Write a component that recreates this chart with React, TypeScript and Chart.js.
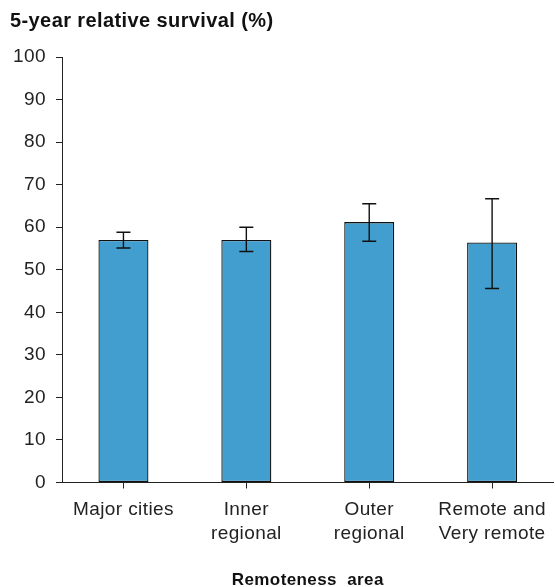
import React, { useEffect, useRef } from "react";
import { Chart, registerables } from "chart.js";

Chart.register(...registerables);

const categories: string[][] = [
  ["Major cities"],
  ["Inner", "regional"],
  ["Outer", "regional"],
  ["Remote and", "Very remote"],
];
const survival: number[] = [57.0, 57.0, 61.2, 56.4];
const lowerCI: number[] = [55.1, 54.3, 56.7, 45.6];
const upperCI: number[] = [58.8, 60.0, 65.5, 66.7];
const yTicks: number[] = [0, 10, 20, 30, 40, 50, 60, 70, 80, 90, 100];

const FONT = "'Liberation Sans', Arial, sans-serif";

const spacingPlugin = {
  id: "spacing",
  beforeUpdate(chart: any) {
    chart.ctx.letterSpacing = "0.4px";
  },
  beforeDraw(chart: any) {
    chart.ctx.letterSpacing = "0.4px";
  },
};

const errorBarPlugin = {
  id: "errorBars",
  afterDatasetsDraw(chart: any) {
    const ctx = chart.ctx;
    const yScale = chart.scales.y;
    const meta = chart.getDatasetMeta(0);
    ctx.save();
    ctx.strokeStyle = "#111111";
    ctx.lineWidth = 1.4;
    meta.data.forEach((bar: any, i: number) => {
      const x = bar.x;
      const yl = yScale.getPixelForValue(lowerCI[i]);
      const yu = yScale.getPixelForValue(upperCI[i]);
      const half = 7;
      ctx.beginPath();
      ctx.moveTo(x, yl);
      ctx.lineTo(x, yu);
      ctx.moveTo(x - half, yu);
      ctx.lineTo(x + half, yu);
      ctx.moveTo(x - half, yl);
      ctx.lineTo(x + half, yl);
      ctx.stroke();
    });
    ctx.restore();
  },
};

export default function App() {
  const ref = useRef<HTMLCanvasElement | null>(null);

  useEffect(() => {
    document.body.style.margin = "0";
    const canvas = ref.current;
    if (!canvas) return;
    const chart = new Chart(canvas, {
      type: "bar",
      data: {
        labels: categories,
        datasets: [
          {
            data: survival,
            backgroundColor: "#429ECE",
            borderColor: "#111111",
            borderWidth: 1.3,
            borderSkipped: false,
            categoryPercentage: 1,
            barPercentage: 0.407,
          },
        ],
      },
      options: {
        animation: false,
        responsive: true,
        maintainAspectRatio: false,
        layout: { padding: { left: 10, right: 1, top: 9, bottom: 0 } },
        plugins: {
          legend: { display: false },
          tooltip: { enabled: false },
          title: {
            display: true,
            text: "5-year relative survival (%)",
            align: "start",
            color: "#111111",
            font: { family: FONT, size: 20, weight: "bold", lineHeight: 1.2 },
            padding: { top: 0, bottom: 24 },
          },
        },
        scales: {
          x: {
            offset: true,
            grid: {
              offset: false,
              drawOnChartArea: false,
              drawTicks: true,
              tickLength: 6,
              color: "#222222",
            },
            border: { color: "#222222", width: 1 },
            ticks: {
              color: "#222222",
              font: { family: FONT, size: 19, lineHeight: 1.26 },
              maxRotation: 0,
              autoSkip: false,
              padding: 9,
            },
            title: {
              display: true,
              text: "Remoteness  area",
              color: "#111111",
              font: { family: FONT, size: 17, weight: "bold", lineHeight: 0.8 },
              padding: { top: 19, bottom: 0 },
            },
          },
          y: {
            min: 0,
            max: 100,
            afterBuildTicks(scale: any) {
              scale.ticks = yTicks.map((v) => ({ value: v }));
            },
            afterFit(scale: any) {
              scale.width = 52;
            },
            grid: {
              drawOnChartArea: false,
              drawTicks: true,
              tickLength: 6,
              color: "#222222",
            },
            border: { color: "#222222", width: 1 },
            ticks: {
              color: "#222222",
              font: { family: FONT, size: 19 },
              padding: 10,
            },
          },
        },
      },
      plugins: [spacingPlugin, errorBarPlugin],
    } as any);
    return () => chart.destroy();
  }, []);

  return (
    <div style={{ width: 555, height: 587, position: "relative" }}>
      <canvas ref={ref} />
    </div>
  );
}
